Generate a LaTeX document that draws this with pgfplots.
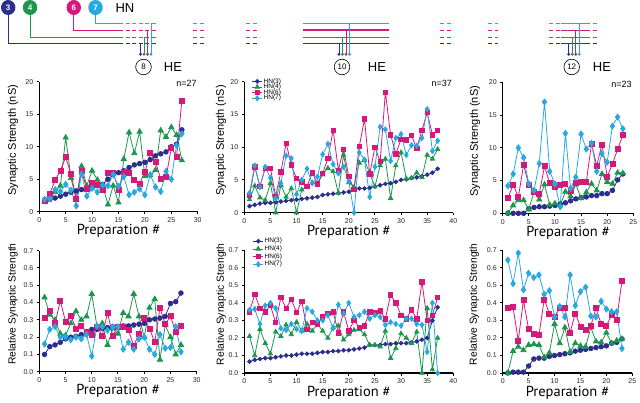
\documentclass[border=0pt]{standalone}
\usepackage{fontspec}
\setmainfont{Liberation Sans}
\newfontfamily\prepfont{PT Sans}
\usepackage{pgfplots}
\usepackage{pgfplotstable}
\pgfplotsset{compat=1.18}
\definecolor{hnthree}{RGB}{43,46,140}
\definecolor{hnfour}{RGB}{28,150,78}
\definecolor{hnsix}{RGB}{214,24,123}
\definecolor{hnseven}{RGB}{39,168,224}

\pgfplotstableread{
n h3 h4 h6 h7
1 1.8 1.7 1.7 1.9
2 1.9 2.2 2.8 2.0
3 2.1 3.0 4.9 3.4
4 2.4 4.0 6.3 3.1
5 2.7 11.4 8.4 4.2
6 3.0 5.2 5.8 3.3
7 3.2 1.8 2.0 0.9
8 3.4 7.0 6.3 5.8
9 3.6 4.0 3.5 2.4
10 3.8 6.3 4.4 3.6
11 4.0 4.9 4.1 3.0
12 4.2 4.0 3.4 4.1
13 5.0 1.1 6.0 4.0
14 5.7 4.0 6.0 5.7
15 6.0 1.4 3.4 3.9
16 6.3 8.1 6.1 5.4
17 6.8 12.2 5.9 2.6
18 7.2 9.0 4.9 3.0
19 7.4 12.3 4.3 3.5
20 7.6 5.5 6.1 2.6
21 8.0 5.6 9.0 5.7
22 8.6 6.4 7.7 3.8
23 8.9 12.5 5.0 3.1
24 9.2 11.5 5.3 6.2
25 10.0 13.0 9.8 5.0
26 10.4 11.8 8.5 10.2
27 12.6 7.9 17.1 12.0
}\tabA

\pgfplotstableread{
n h3 h4 h6 h7
1 1.0 2.0 2.6 3.0
2 1.2 4.1 7.0 7.2
3 1.4 2.3 4.0 3.9
4 1.5 1.9 6.8 7.0
5 1.5 4.5 6.8 5.3
6 1.6 0.0 2.5 2.2
7 1.7 4.2 6.2 4.5
8 1.8 2.4 10.6 8.7
9 1.9 3.7 7.3 8.3
10 2.0 0.0 5.2 2.8
11 2.1 3.5 4.7 5.0
12 2.2 4.0 4.0 6.7
13 2.3 4.6 6.1 4.5
14 2.4 4.5 4.4 5.5
15 2.7 5.8 6.0 8.9
16 2.8 6.8 8.3 10.5
17 2.9 6.3 12.6 7.4
18 3.0 3.0 6.5 6.0
19 3.1 8.8 9.7 7.0
20 3.2 4.6 5.5 4.8
21 3.6 3.9 3.6 0.0
22 3.7 7.6 10.1 9.2
23 3.7 8.0 14.3 8.1
24 3.8 6.0 5.9 2.4
25 4.0 4.0 10.0 7.0
26 4.2 7.2 7.8 13.1
27 4.4 8.2 18.4 12.7
28 4.5 2.2 11.9 7.9
29 4.7 7.2 9.0 11.4
30 5.0 9.2 11.2 12.0
31 5.1 5.2 11.1 8.8
32 5.3 5.3 11.8 10.3
33 5.4 6.1 9.8 10.2
34 5.6 5.4 12.6 11.4
35 5.8 8.8 15.3 15.8
36 6.1 8.2 11.9 9.4
37 6.7 9.7 12.6 11.0
}\tabB

\pgfplotstableread{
n h3 h4 h6 h7
1 0.0 0.0 2.3 4.2
2 0.0 1.2 4.4 6.0
3 0.0 2.0 2.5 10.0
4 0.0 2.0 7.4 8.5
5 0.7 0.6 4.3 4.5
6 0.9 3.3 3.3 3.5
7 1.0 2.1 3.0 7.6
8 1.0 4.4 7.2 17.0
9 1.1 1.3 4.6 6.4
10 1.2 1.5 4.1 4.5
11 1.4 1.2 4.4 1.0
12 1.6 3.3 4.5 12.2
13 1.9 2.6 3.4 3.8
14 2.2 4.4 4.6 5.5
15 2.4 2.3 4.8 12.1
16 2.5 3.2 4.8 9.8
17 2.7 4.5 10.6 10.7
18 2.7 3.5 7.3 6.4
19 3.0 6.0 10.5 9.1
20 3.0 4.8 5.6 7.8
21 3.5 4.5 7.5 13.3
22 5.1 6.2 9.8 14.7
23 6.0 6.1 11.9 12.9
}\tabC

\pgfplotstableread{
n h3 h4 h6 h7
1 0.100 0.43 0.31 0.160
2 0.145 0.33 0.35 0.245
3 0.155 0.30 0.28 0.260
4 0.170 0.22 0.41 0.200
5 0.190 0.21 0.29 0.200
6 0.200 0.28 0.325 0.185
7 0.205 0.35 0.25 0.200
8 0.215 0.30 0.265 0.190
9 0.220 0.32 0.23 0.215
10 0.245 0.45 0.215 0.090
11 0.245 0.26 0.26 0.265
12 0.250 0.28 0.21 0.260
13 0.255 0.155 0.34 0.240
14 0.260 0.25 0.21 0.260
15 0.260 0.22 0.26 0.260
16 0.265 0.34 0.26 0.130
17 0.265 0.32 0.24 0.170
18 0.270 0.45 0.15 0.130
19 0.275 0.32 0.22 0.190
20 0.280 0.20 0.31 0.200
21 0.300 0.37 0.25 0.130
22 0.305 0.42 0.17 0.100
23 0.310 0.07 0.37 0.215
24 0.320 0.27 0.275 0.135
25 0.395 0.20 0.32 0.140
26 0.405 0.10 0.23 0.260
27 0.455 0.155 0.265 0.115
}\tabD

\pgfplotstableread{
n h3 h4 h6 h7
1 0.065 0.21 0.35 0.36
2 0.075 0.10 0.45 0.365
3 0.080 0.25 0.37 0.28
4 0.085 0.17 0.35 0.385
5 0.085 0.11 0.385 0.40
6 0.090 0.235 0.29 0.37
7 0.095 0.21 0.43 0.255
8 0.100 0.275 0.37 0.245
9 0.100 0.22 0.42 0.28
10 0.105 0.29 0.345 0.25
11 0.110 0.24 0.41 0.24
12 0.110 0.28 0.25 0.37
13 0.110 0.24 0.29 0.35
14 0.115 0.28 0.28 0.30
15 0.120 0.24 0.32 0.30
16 0.120 0.20 0.34 0.33
17 0.125 0.26 0.35 0.255
18 0.125 0.27 0.23 0.39
19 0.130 0.19 0.35 0.34
20 0.130 0.22 0.24 0.40
21 0.135 0.245 0.30 0.32
22 0.140 0.25 0.26 0.33
23 0.145 0.22 0.27 0.35
24 0.160 0.16 0.35 0.31
25 0.160 0.16 0.345 0.33
26 0.160 0.15 0.355 0.32
27 0.165 0.24 0.31 0.275
28 0.165 0.085 0.445 0.29
29 0.170 0.14 0.40 0.28
30 0.170 0.225 0.33 0.27
31 0.170 0.20 0.31 0.31
32 0.175 0.17 0.36 0.31
33 0.180 0.235 0.31 0.28
34 0.190 0.0 0.52 0.275
35 0.200 0.37 0.30 0.12
36 0.300 0.02 0.33 0.40
37 0.375 0.20 0.43 0.0
}\tabE

\pgfplotstableread{
n h3 h4 h6 h7
1 0.000 0.0 0.37 0.645
2 0.005 0.125 0.375 0.51
3 0.005 0.15 0.185 0.685
4 0.005 0.13 0.415 0.475
5 0.040 0.16 0.25 0.57
6 0.080 0.165 0.225 0.545
7 0.085 0.16 0.215 0.56
8 0.085 0.09 0.42 0.45
9 0.095 0.115 0.34 0.47
10 0.100 0.28 0.32 0.32
11 0.105 0.17 0.37 0.38
12 0.110 0.26 0.37 0.32
13 0.115 0.12 0.23 0.56
14 0.125 0.17 0.34 0.385
15 0.130 0.155 0.265 0.465
16 0.135 0.15 0.245 0.49
17 0.140 0.26 0.27 0.325
18 0.145 0.18 0.37 0.32
19 0.150 0.175 0.28 0.41
20 0.155 0.23 0.27 0.365
21 0.170 0.17 0.33 0.35
22 0.175 0.185 0.305 0.35
23 0.195 0.195 0.525 0.14
}\tabF

\pgfplotsset{
  panel/.style={
    scale only axis, anchor=south west,
    axis x line*=bottom, axis y line*=left,
    axis line style={line width=1.3pt,-},
    tick align=outside, major tick length=2.5pt,
    tick style={line width=1pt,black},
    xmin=0, ymin=0, enlargelimits=false, clip=false,
    tick label style={font=\fontsize{7}{7}\selectfont, text=black!85},
    /pgf/number format/assume math mode=true,
    xlabel={Preparation \#},
    xlabel style={at={(axis description cs:0.5,0)}, anchor=center, yshift=-19.5pt,
      font=\prepfont\fontsize{14.5}{14.5}\selectfont},
    every axis plot/.append style={line width=0.8pt},
    legend cell align=left,
    legend image code/.code={\draw[mark repeat=2,mark phase=2,##1] plot coordinates {(0pt,0pt) (5pt,0pt) (10pt,0pt)};},
  },
  toprow/.style={ymax=20, ytick={0,5,10,15,20},
    ylabel={Synaptic Strength (nS)},
    ylabel style={font=\fontsize{11}{11}\selectfont, anchor=center}},
  botrow/.style={ymax=0.7, ytick={0,0.1,...,0.7},
    yticklabel style={/pgf/number format/.cd, fixed, fixed zerofill, precision=1},
    ylabel={Relative Synaptic Strength},
    ylabel style={font=\fontsize{10.3}{10.3}\selectfont, anchor=center}},
  sthree/.style={color=hnthree, mark=*, mark size=2.3pt},
  sfour/.style={color=hnfour, mark=triangle*, mark size=3pt},
  ssix/.style={color=hnsix, mark=square*, mark size=2.5pt},
  sseven/.style={color=hnseven, mark=diamond*, mark size=3pt},
}

\begin{document}
\begin{tikzpicture}[x=1pt,y=1pt]
\path[use as bounding box] (0,0) rectangle (640,402);

% ---------- schematic ----------
\begin{scope}[shift={(0,402)},yscale=-1, line width=0.8pt]
\foreach \x/\c/\l in {8.2/hnthree/3, 30/hnfour/4, 73.8/hnsix/6, 95.5/hnseven/7} {
  \fill[\c] (\x,7.5) ellipse (7.2 and 7.5);
  \node[text=white, font=\bfseries\fontsize{8}{8}\selectfont] at (\x,7.5) {\l};
}
\node[font=\fontsize{13}{13}\selectfont] at (125,8) {HN};
\draw[hnthree] (8.2,14) |- (119,43.3);
\draw[hnfour] (30,14) |- (119,37.3);
\draw[hnsix] (73.8,14) |- (119,30);
\draw[hnseven] (95.5,14) |- (119,23.3);
\foreach \y/\c in {43.3/hnthree,37.3/hnfour,30/hnsix,23.3/hnseven} {
  \draw[\c, dash pattern=on 4pt off 2.5pt] (119,\y) -- (156,\y);
  \draw[\c, dash pattern=on 4pt off 2.5pt] (193,\y) -- (206,\y);
  \draw[\c, dash pattern=on 4pt off 2.5pt] (246,\y) -- (259,\y);
  \draw[\c, line width=1.1pt] (303,\y) -- (389,\y);
  \draw[\c, dash pattern=on 4pt off 2.5pt] (440,\y) -- (453,\y);
  \draw[\c, dash pattern=on 4pt off 2.5pt] (488,\y) -- (498,\y);
  \draw[\c, dash pattern=on 4pt off 2.5pt] (549,\y) -- (561,\y);
  \draw[\c] (561,\y) -- (586,\y);
  \draw[\c, dash pattern=on 4pt off 2.5pt] (586,\y) -- (598,\y);
}
\foreach \cx/\lab/\hx in {143.5/8/173, 342/10/377, 571.7/12/602} {
  \foreach \yy/\c/\o in {43.3/hnthree/-3, 37.3/hnfour/0.5, 30/hnsix/4, 23.3/hnseven/7.5} {
    \draw[\c] ({\cx+\o},\yy) -- ({\cx+\o},54.3);
    \fill[\c] ({\cx+\o},54.3) circle (1.6);
  }
  \draw[black, fill=white, line width=0.6pt] (\cx,67) circle (7.8);
  \node[font=\fontsize{8}{8}\selectfont] at (\cx,67) {\lab};
  \node[font=\fontsize{13}{13}\selectfont] at (\hx,67) {HE};
}
\end{scope}

% ---------- top row ----------
\begin{axis}[panel, toprow, at={(39.3pt,190.3pt)}, width=158.4pt, height=130pt,
  xmax=30, xtick={0,5,...,30},
  ylabel style={at={(axis description cs:-0.166,0.55)}}]
\addplot[sthree] table[x=n,y=h3]{\tabA};
\addplot[sfour] table[x=n,y=h4]{\tabA};
\addplot[ssix] table[x=n,y=h6]{\tabA};
\addplot[sseven] table[x=n,y=h7]{\tabA};
\node[font=\fontsize{9}{9}\selectfont] at (rel axis cs:0.93,0.985) {n=27};
\end{axis}

\begin{axis}[panel, toprow, at={(244.3pt,189.3pt)}, width=209pt, height=131pt,
  xmax=40, xtick={0,5,...,40},
  ylabel style={at={(axis description cs:-0.111,0.55)}},
  legend style={draw=none, fill=none, at={(0.035,1.035)}, anchor=north west,
    font=\fontsize{6.5}{6.5}\selectfont, row sep=-2.6pt, inner sep=0pt,
    nodes={inner sep=1pt}}]
\addplot[sthree, mark size=1.9pt] table[x=n,y=h3]{\tabB};
\addplot[sfour, mark size=2.5pt] table[x=n,y=h4]{\tabB};
\addplot[ssix, mark size=2.2pt] table[x=n,y=h6]{\tabB};
\addplot[sseven, mark size=2.6pt] table[x=n,y=h7]{\tabB};
\legend{HN(3),HN(4),HN(6),HN(7)}
\node[font=\fontsize{9}{9}\selectfont] at (rel axis cs:0.945,0.985) {n=37};
\end{axis}

\begin{axis}[panel, toprow, at={(502.7pt,188.7pt)}, width=130.6pt, height=131pt,
  xmax=25, xtick={0,5,...,25},
  ylabel style={at={(axis description cs:-0.212,0.55)}}]
\addplot[sthree] table[x=n,y=h3]{\tabC};
\addplot[sfour] table[x=n,y=h4]{\tabC};
\addplot[ssix] table[x=n,y=h6]{\tabC};
\addplot[sseven] table[x=n,y=h7]{\tabC};
\node[font=\fontsize{9}{9}\selectfont] at (rel axis cs:0.91,0.985) {n=23};
\end{axis}

% ---------- bottom row ----------
\begin{axis}[panel, botrow, at={(39.3pt,30.3pt)}, width=157.4pt, height=121pt,
  xmax=30, xtick={0,5,...,30},
  ylabel style={at={(axis description cs:-0.168,0.56)}}]
\addplot[sthree] table[x=n,y=h3]{\tabD};
\addplot[sfour] table[x=n,y=h4]{\tabD};
\addplot[ssix] table[x=n,y=h6]{\tabD};
\addplot[sseven] table[x=n,y=h7]{\tabD};
\end{axis}

\begin{axis}[panel, botrow, at={(244.3pt,29pt)}, width=209pt, height=122.6pt,
  xmax=40, xtick={0,5,...,40},
  ylabel style={at={(axis description cs:-0.111,0.56)}},
  legend style={draw=none, fill=none, at={(0.04,1.11)}, anchor=north west,
    font=\fontsize{6.5}{6.5}\selectfont, row sep=-0.5pt, inner sep=0pt,
    nodes={inner sep=1pt}}]
\addplot[sthree, mark size=1.9pt] table[x=n,y=h3]{\tabE};
\addplot[sfour, mark size=2.5pt] table[x=n,y=h4]{\tabE};
\addplot[ssix, mark size=2.2pt] table[x=n,y=h6]{\tabE};
\addplot[sseven, mark size=2.6pt] table[x=n,y=h7]{\tabE};
\legend{HN(3),HN(4),HN(6),HN(7)}
\end{axis}

\begin{axis}[panel, botrow, at={(502.7pt,29pt)}, width=129.6pt, height=122.6pt,
  xmax=25, xtick={0,5,...,25},
  ylabel style={at={(axis description cs:-0.22,0.56)}}]
\addplot[sthree] table[x=n,y=h3]{\tabF};
\addplot[sfour] table[x=n,y=h4]{\tabF};
\addplot[ssix] table[x=n,y=h6]{\tabF};
\addplot[sseven] table[x=n,y=h7]{\tabF};
\end{axis}
\end{tikzpicture}
\end{document}
